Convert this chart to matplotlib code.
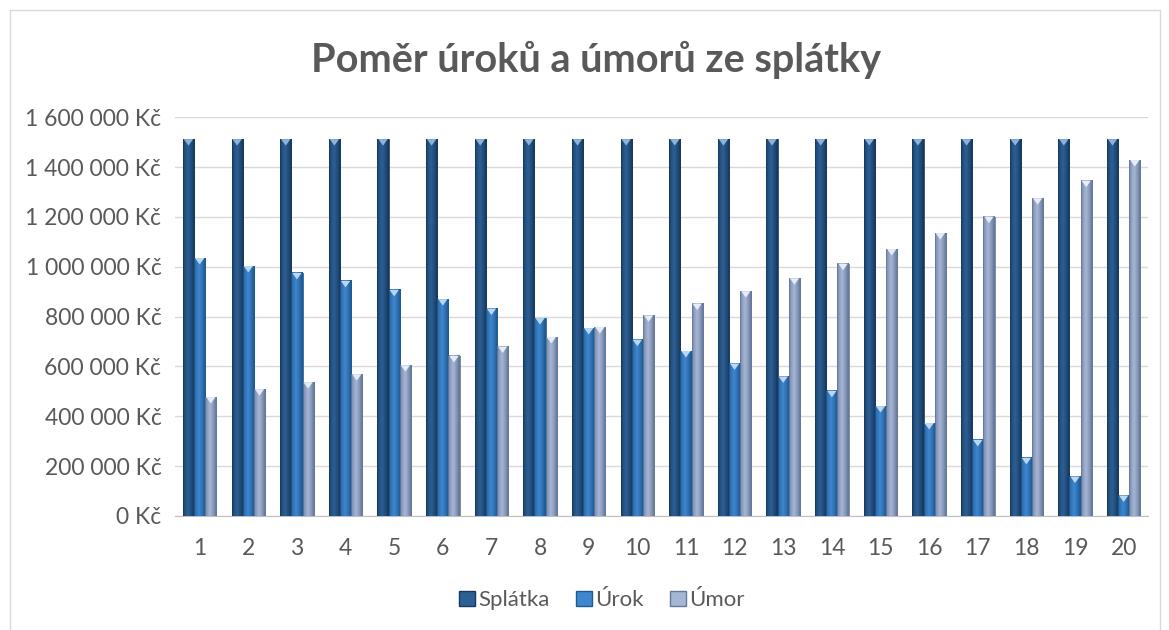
import numpy as np
import matplotlib
matplotlib.use("Agg")
import matplotlib.pyplot as plt
from matplotlib.patches import Polygon, Rectangle
from matplotlib.ticker import FuncFormatter

plt.rcParams['font.family'] = ['Lato', 'DejaVu Sans']

# --- data
obdobi = list(range(1, 21))
splatka = [1512000] * 20
urok = [1035000, 1003000, 975000, 943000, 907000, 870000, 832000, 794000, 754000, 707000,
        662000, 612000, 560000, 502000, 441000, 373000, 305000, 233000, 158000, 82000]
umor = [477000, 509000, 537000, 569000, 605000, 642000, 680000, 718000, 758000, 805000,
        852000, 902000, 954000, 1012000, 1071000, 1135000, 1201000, 1275000, 1345000, 1428000]

serie = ["Splátka", "Úrok", "Úmor"]
hodnoty = [splatka, urok, umor]
# (edge colour, centre colour, tip colour)
barvy = [("#163a5e", "#2d5f95", "#8fb2dc"),
         ("#1f5a94", "#3f86cf", "#b9d6f2"),
         ("#66789a", "#a6b6d6", "#e4ecf8")]

text_col = "#595959"

fig = plt.figure(figsize=(11.69, 6.30), dpi=100)
# chart border
fig.patches.append(Rectangle((10/1169, -0.01), 1150/1169, 1 - 10/630 + 0.01,
                             transform=fig.transFigure, fill=False,
                             edgecolor="#d9d9d9", lw=1.0))

ax = fig.add_axes([0.150, 0.181, 0.832, 0.633])

w = 0.23
offs = [-w, 0, w]
x = np.array(obdobi, dtype=float)


def gradient(c_edge, c_mid, n=32):
    e = np.array(matplotlib.colors.to_rgb(c_edge))
    m = np.array(matplotlib.colors.to_rgb(c_mid))
    t = np.linspace(0, 1, n)
    # bright part slightly left of centre
    k = np.clip(1 - np.abs(t - 0.42) / 0.5, 0, 1) ** 0.8
    return (e[None, :] * (1 - k[:, None]) + m[None, :] * k[:, None])[None, :, :]


tip_h = 26000
for s, (vals, (ce, cm, ct)) in enumerate(zip(hodnoty, barvy)):
    img = gradient(ce, cm)
    for xi, v in zip(x, vals):
        x0 = xi + offs[s] - w / 2
        x1 = xi + offs[s] + w / 2
        ax.imshow(img, extent=(x0, x1, 0, v), aspect='auto', zorder=3,
                  interpolation='bilinear')
        ax.add_patch(Rectangle((x0, 0), w, v, fill=False, edgecolor=ce,
                               lw=0.6, zorder=4))
        tip = Polygon([[x0 + w * 0.08, v], [x1 - w * 0.08, v],
                       [(x0 + x1) / 2, v - tip_h]], closed=True,
                      facecolor=ct, edgecolor='none', zorder=5)
        ax.add_patch(tip)

ax.set_xlim(0.5, 20.5)
ax.set_ylim(0, 1600000)
ax.set_yticks(np.arange(0, 1600001, 200000))
ax.set_xticks(x)
ax.set_xticklabels([str(o) for o in obdobi])
ax.yaxis.set_major_formatter(FuncFormatter(
    lambda v, p: f"{int(v):,}".replace(",", " ") + " Kč"))
ax.grid(axis='y', color="#d9d9d9", lw=1.0, zorder=0)
ax.set_axisbelow(True)
for sp in ["top", "right", "left"]:
    ax.spines[sp].set_visible(False)
ax.spines["bottom"].set_color("#bfbfbf")
ax.tick_params(length=0, labelsize=16.5, colors=text_col)
ax.tick_params(axis='x', pad=16)
ax.tick_params(axis='y', pad=10)

fig.text(0.510, 0.905, "Poměr úroků a úmorů ze splátky", ha='center', va='center',
         fontsize=28.5, fontweight='bold', color=text_col)

handles = [Rectangle((0, 0), 1, 1, facecolor=b[1], edgecolor=b[0]) for b in barvy]
fig.legend(handles, serie, loc='center', bbox_to_anchor=(0.515, 0.047), ncol=3,
           frameon=False, fontsize=16, labelcolor=text_col, handlelength=0.7,
           handleheight=0.7, handletextpad=0.15, columnspacing=1.2)

fig.savefig("out.png", dpi=100)
